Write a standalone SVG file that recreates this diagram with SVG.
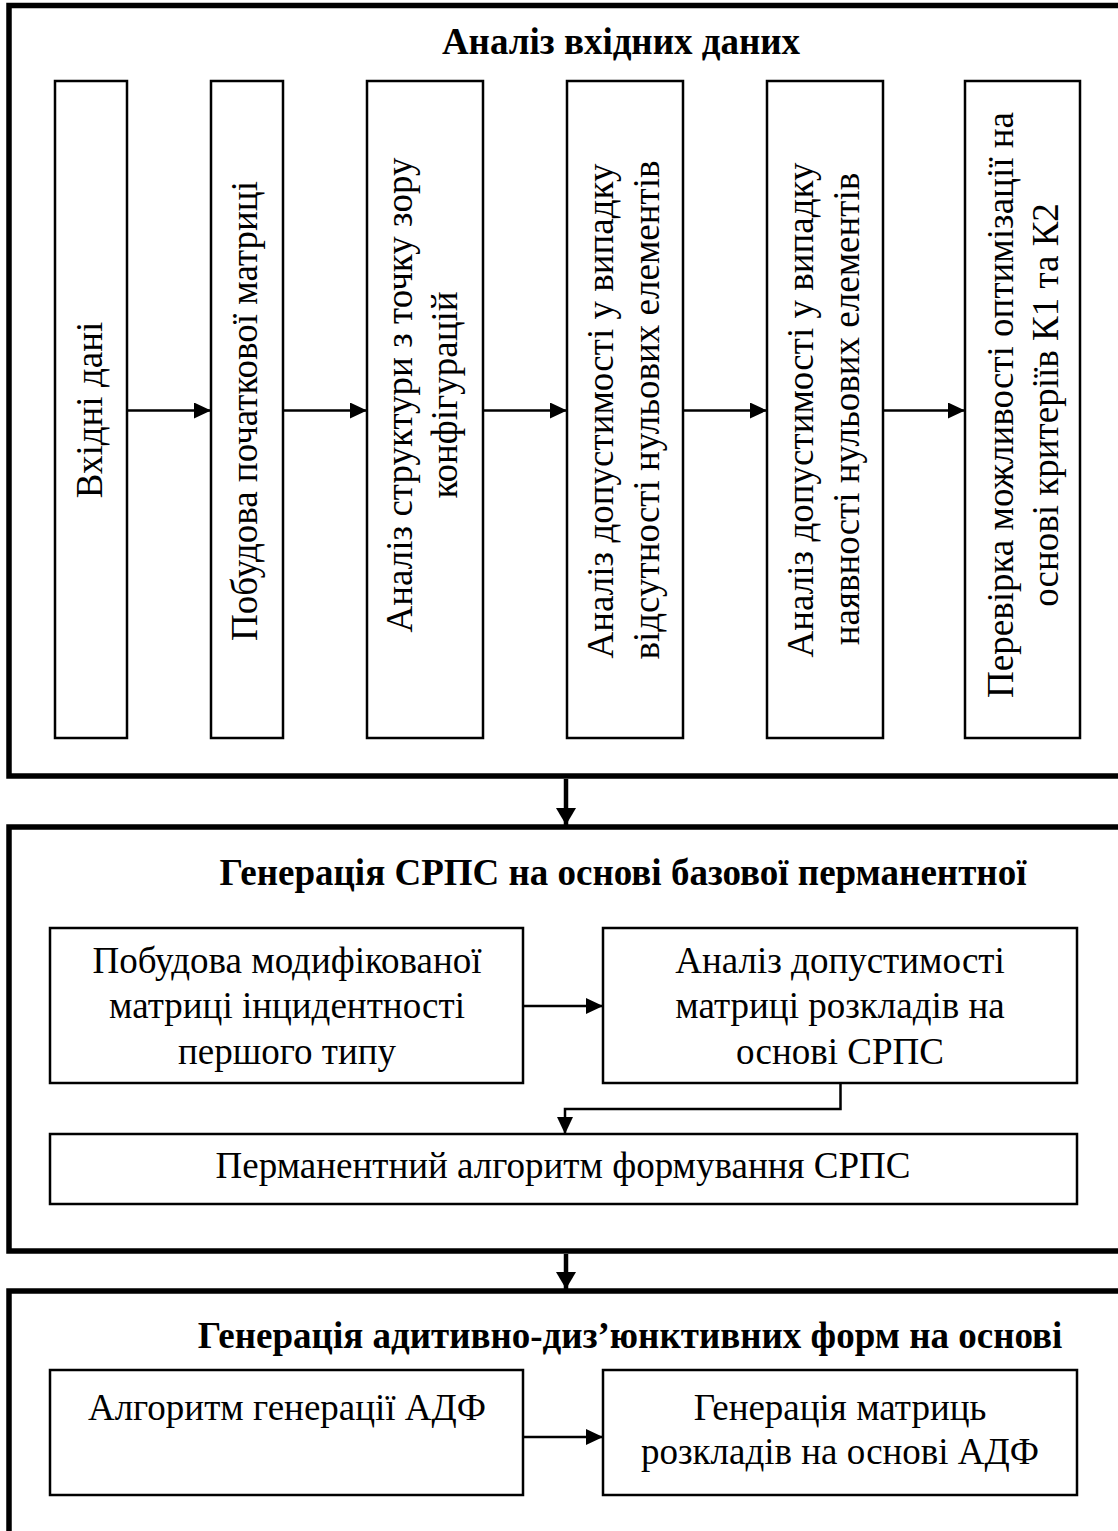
<svg xmlns="http://www.w3.org/2000/svg" width="1118" height="1531" viewBox="0 0 1118 1531">
<style>
.cont{fill:none;stroke:#000;stroke-width:5.5}
.box{fill:#fff;stroke:#000;stroke-width:2.5}
.t{font-family:"Liberation Serif","Times New Roman",serif;font-size:37px;fill:#000;text-anchor:middle}
.ttl{font-family:"Liberation Serif","Times New Roman",serif;font-size:37px;font-weight:bold;fill:#000;text-anchor:middle}
.ln{fill:none;stroke:#000;stroke-width:2.5}
.lnb{fill:none;stroke:#000;stroke-width:4.5}
</style>
<defs>
<marker id="ah" markerUnits="userSpaceOnUse" markerWidth="17" markerHeight="16" refX="17" refY="8" orient="auto">
<path d="M0,0 L17,8 L0,16 Z" fill="#000"/>
</marker>
<marker id="ahb" markerUnits="userSpaceOnUse" markerWidth="17" markerHeight="20" refX="17" refY="10" orient="auto">
<path d="M0,0 L17,10 L0,20 Z" fill="#000"/>
</marker>
</defs>
<rect width="1118" height="1531" fill="#fff"/>

<g id="section1">
<rect class="cont" x="9" y="5.5" width="1120" height="770.5"/>
<text class="ttl" x="621" y="54">Аналіз вхідних даних</text>
</g>
<g id="section2">
<rect class="cont" x="9" y="827" width="1120" height="424"/>
<text class="ttl" x="623" y="885">Генерація СРПС на основі базової перманентної</text>
</g>
<g id="section3">
<rect class="cont" x="9" y="1291" width="1120" height="260"/>
<text class="ttl" x="630" y="1348">Генерація адитивно-диз’юнктивних форм на основі</text>
</g>

<g id="n1">
<rect class="box" x="55" y="81" width="72" height="657"/>
<text class="t" transform="translate(102,410) rotate(-90)">Вхідні дані</text>
</g>
<g id="n2">
<rect class="box" x="211" y="81" width="72" height="657"/>
<text class="t" transform="translate(257,411) rotate(-90)">Побудова початкової матриці</text>
</g>
<g id="n3">
<rect class="box" x="367" y="81" width="116" height="657"/>
<text class="t" transform="translate(412,395) rotate(-90)">Аналіз структури з точку зору</text>
<text class="t" transform="translate(457,395) rotate(-90)">конфігурацій</text>
</g>
<g id="n4">
<rect class="box" x="567" y="81" width="116" height="657"/>
<text class="t" transform="translate(613,411) rotate(-90)">Аналіз допустимості у випадку</text>
<text class="t" transform="translate(659,410) rotate(-90)">відсутності нульових елементів</text>
</g>
<g id="n5">
<rect class="box" x="767" y="81" width="116" height="657"/>
<text class="t" transform="translate(813,410) rotate(-90)">Аналіз допустимості у випадку</text>
<text class="t" transform="translate(859,409) rotate(-90)">наявності нульових елементів</text>
</g>
<g id="n6">
<rect class="box" x="965" y="81" width="115" height="657"/>
<text class="t" transform="translate(1013,405) rotate(-90)">Перевірка можливості оптимізації на</text>
<text class="t" transform="translate(1058,405) rotate(-90)">основі критеріїв К1 та К2</text>
</g>

<g id="n7">
<rect class="box" x="50" y="928" width="473" height="155"/>
<text class="t" x="287" y="973">Побудова модифікованої</text>
<text class="t" x="287" y="1018">матриці інцидентності</text>
<text class="t" x="287" y="1064">першого типу</text>
</g>
<g id="n8">
<rect class="box" x="603" y="928" width="474" height="155"/>
<text class="t" x="840" y="973">Аналіз допустимості</text>
<text class="t" x="840" y="1018">матриці розкладів на</text>
<text class="t" x="840" y="1064">основі СРПС</text>
</g>
<g id="n9">
<rect class="box" x="50" y="1134" width="1027" height="70"/>
<text class="t" x="563" y="1178">Перманентний алгоритм формування СРПС</text>
</g>

<g id="n10">
<rect class="box" x="50" y="1370" width="473" height="125"/>
<text class="t" x="287" y="1420">Алгоритм генерації АДФ</text>
</g>
<g id="n11">
<rect class="box" x="603" y="1370" width="474" height="125"/>
<text class="t" x="840" y="1420">Генерація матриць</text>
<text class="t" x="840" y="1464">розкладів на основі АДФ</text>
</g>

<g id="connectors">
<line class="ln" x1="127" y1="410.5" x2="211" y2="410.5" marker-end="url(#ah)"/>
<line class="ln" x1="283" y1="410.5" x2="367" y2="410.5" marker-end="url(#ah)"/>
<line class="ln" x1="483" y1="410.5" x2="567" y2="410.5" marker-end="url(#ah)"/>
<line class="ln" x1="683" y1="410.5" x2="767" y2="410.5" marker-end="url(#ah)"/>
<line class="ln" x1="883" y1="410.5" x2="965" y2="410.5" marker-end="url(#ah)"/>
<line class="lnb" x1="566" y1="779" x2="566" y2="825" marker-end="url(#ahb)"/>
<line class="ln" x1="523" y1="1006" x2="603" y2="1006" marker-end="url(#ah)"/>
<polyline class="ln" points="840.5,1083 840.5,1109 565,1109 565,1134" marker-end="url(#ah)"/>
<line class="lnb" x1="566" y1="1254" x2="566" y2="1289" marker-end="url(#ahb)"/>
<line class="ln" x1="523" y1="1437" x2="603" y2="1437" stroke-width="3.5" marker-end="url(#ah)"/>
</g>
</svg>
